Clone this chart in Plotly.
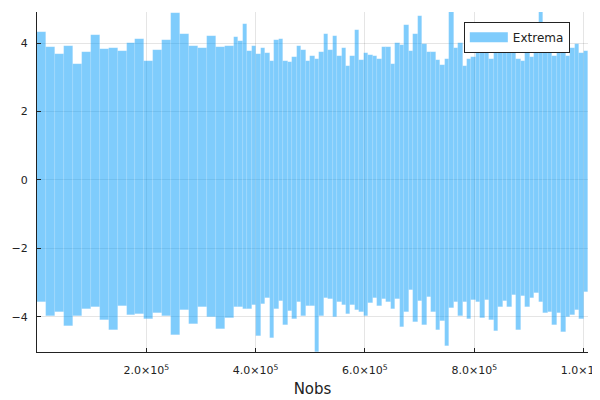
import plotly.graph_objects as go

# ---- data ----
# bar extents: first block of wide bins, then narrow bins
wide_width = 16380
narrow_width = 8200

wide_max = [4.33, 3.88, 3.67, 3.91, 3.40, 3.75, 4.24, 3.82, 3.85, 3.77, 4.00,
            4.13, 3.47, 3.80, 4.09, 4.87, 4.28, 3.91, 3.85, 4.20, 3.89, 3.93]
wide_min = [-3.56, -3.99, -3.86, -4.26, -3.97, -3.77, -3.71, -4.08, -4.40, -3.68, -3.94,
            -3.92, -4.07, -3.90, -3.99, -4.53, -3.79, -4.22, -3.71, -4.00, -4.36, -4.05]

narrow_max = [4.17, 4.05, 4.55, 3.78, 3.91, 3.68, 3.87, 3.72, 3.49, 4.09, 4.13, 3.48,
              3.45, 3.59, 3.92, 3.80, 3.47, 3.61, 3.53, 3.73, 4.26, 3.80, 4.20, 3.61,
              3.86, 3.33, 3.61, 4.38, 3.50, 3.70, 3.65, 3.62, 3.54, 3.89, 3.88, 3.38,
              3.99, 3.95, 4.53, 3.77, 4.28, 4.78,
              3.96, 3.75, 3.74, 3.50, 3.37, 3.54, 4.91, 3.86, 3.99, 3.33, 3.55, 3.60,
              3.90, 4.05, 3.90, 3.53, 3.75, 4.00, 4.10, 3.95, 4.00, 3.55, 3.49, 3.90,
              3.58, 4.00, 4.91, 3.89, 3.95, 3.62, 3.80, 3.78, 3.62, 3.85, 3.97, 3.70, 3.77]
narrow_min = [-3.72, -3.70, -3.76, -3.78, -3.65, -4.55, -3.64, -3.45, -4.62, -3.78, -3.54,
              -4.23, -3.83, -4.07, -3.56, -3.97, -3.68, -3.68, -5.03, -3.97, -3.45, -3.48,
              -4.01, -3.58, -3.66, -3.93, -3.66, -3.80, -3.87, -3.97, -3.61, -3.45, -3.68,
              -3.47, -3.58, -3.78, -3.47, -4.30, -3.87, -3.23, -4.14,
              -3.53, -4.23, -3.41, -3.87, -4.40, -4.12, -4.85, -3.75, -3.56, -3.97, -3.58,
              -4.06, -3.50, -3.58, -4.04, -3.52, -4.09, -4.43, -3.72, -3.54, -3.70, -3.35,
              -4.40, -3.39, -3.70, -3.45, -3.31, -3.58, -3.89, -3.87, -4.23, -3.89, -4.44,
              -4.01, -3.94, -3.80, -4.07, -3.27]

xtick_vals = [2e5, 4e5, 6e5, 8e5, 1e6]
xtick_text = ["2.0×10<sup>5</sup>", "4.0×10<sup>5</sup>", "6.0×10<sup>5</sup>",
              "8.0×10<sup>5</sup>", "1.0×10<sup>6</sup>"]
ytick_vals = [-4, -2, 0, 2, 4]

# ---- build bins ----
centers, widths, bases, heights = [], [], [], []
edge = 0.0
for hi, lo in zip(wide_max, wide_min):
    centers.append(edge + wide_width / 2)
    widths.append(wide_width)
    bases.append(lo)
    heights.append(hi - lo)
    edge += wide_width
for hi, lo in zip(narrow_max, narrow_min):
    centers.append(edge + narrow_width / 2)
    widths.append(narrow_width)
    bases.append(lo)
    heights.append(hi - lo)
    edge += narrow_width
x_end = edge

ymin = min(wide_min + narrow_min)
ymax = max(wide_max + narrow_max)

fill = "rgba(0,154,250,0.5)"

fig = go.Figure()
fig.add_trace(go.Bar(
    x=centers, y=heights, base=bases, width=widths,
    marker=dict(color=fill, line=dict(color="rgba(255,255,255,0.2)", width=0.6)),
    showlegend=False, name="Extrema",
))
# legend entry
fig.add_trace(go.Scatter(
    x=[None], y=[None], mode="lines", name="Extrema",
    line=dict(color=fill, width=11),
))

font_family = "DejaVu Sans, sans-serif"
fig.update_layout(
    width=592, height=392,
    margin=dict(l=29, r=12, t=4, b=48),
    plot_bgcolor="white", paper_bgcolor="white",
    bargap=0,
    font=dict(family=font_family, size=11, color="#222222"),
    legend=dict(
        x=0.967, y=0.971, xanchor="right", yanchor="top",
        bgcolor="white", bordercolor="#222222", borderwidth=1,
        font=dict(size=12, family=font_family),
        itemwidth=38,
    ),
    xaxis=dict(
        range=[0, x_end], automargin=False,
        tickvals=xtick_vals, ticktext=xtick_text,
        ticklabeloverflow="allow", ticklabelstandoff=8,
        showgrid=True, gridcolor="rgba(0,0,0,0.1)", gridwidth=1,
        showline=True, linecolor="#222222", linewidth=1,
        ticks="inside", ticklen=4, tickcolor="#222222",
        zeroline=False,
        title=dict(text="Nobs", font=dict(size=15, family=font_family), standoff=7),
    ),
    yaxis=dict(
        range=[ymin, ymax], automargin=False,
        tickvals=ytick_vals,
        showgrid=True, gridcolor="rgba(0,0,0,0.1)", gridwidth=1,
        showline=True, linecolor="#222222", linewidth=1,
        ticks="inside", ticklen=4, tickcolor="#222222",
        zeroline=False, ticklabelstandoff=6,
    ),
)

fig.write_html("out.html")
